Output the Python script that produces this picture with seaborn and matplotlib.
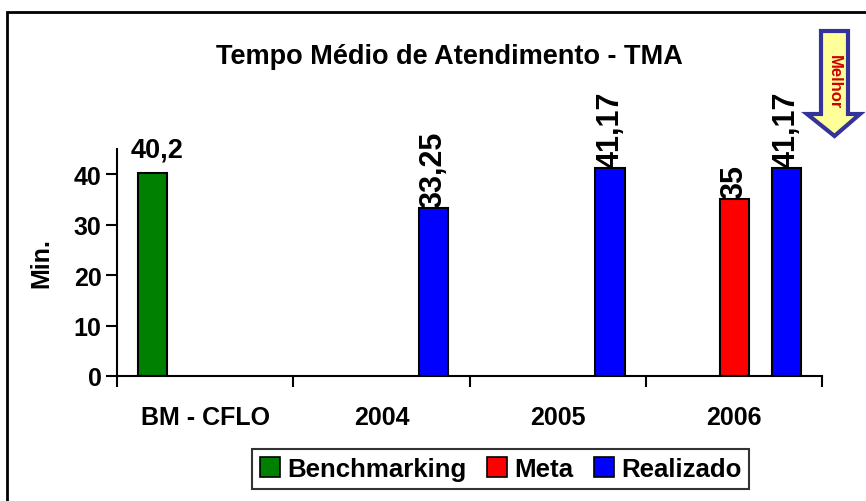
import numpy as np
import pandas as pd
import matplotlib
matplotlib.use("Agg")
import matplotlib.pyplot as plt
from matplotlib.patches import Patch, Polygon, Rectangle
import seaborn as sns

# ── Data ─────────────────────────────────────────────────────────────────────
categories   = ["BM - CFLO", "2004", "2005", "2006"]
series       = ["Benchmarking", "Meta", "Realizado"]
benchmarking = [40.2, np.nan, np.nan, np.nan]
meta         = [np.nan, np.nan, np.nan, 35]
realizado    = [np.nan, 33.25, 41.17, 41.17]
colors       = ["#008000", "#FF0000", "#0000FF"]
y_ticks      = [0, 10, 20, 30, 40]

df = pd.DataFrame({
    "cat":   categories * 3,
    "serie": [s for s in series for _ in categories],
    "val":   benchmarking + meta + realizado,
})

sns.set_style("white")
plt.rcParams["font.family"] = ["Liberation Sans", "DejaVu Sans"]
plt.rcParams["font.weight"] = "bold"
plt.rcParams["text.color"] = "black"
plt.rcParams["axes.labelcolor"] = "black"
plt.rcParams["xtick.color"] = "black"
plt.rcParams["ytick.color"] = "black"

FS = 18
W, H = 866, 502
fig = plt.figure(figsize=(W / 100, H / 100), dpi=100)
ax = fig.add_axes([117 / W, 1 - 377 / H, (822.3 - 117) / W, (377 - 150) / H])

sns.barplot(data=df, x="cat", y="val", hue="serie", order=categories,
            hue_order=series, palette=colors, width=0.888, gap=0.444,
            edgecolor="black", linewidth=1.5, saturation=1, ax=ax,
            legend=False)

ax.set_xlim(-0.5, len(categories) - 0.5)
ax.set_ylim(0, 45)
ax.set_yticks(y_ticks)
ax.set_xticks(np.arange(len(categories) + 1) - 0.5, minor=True)
ax.tick_params(axis="x", which="major", length=0, pad=21, labelsize=FS)
ax.tick_params(axis="x", which="minor", length=8, width=1.5, direction="out",
               bottom=True)
ax.tick_params(axis="y", length=8, width=1.5, direction="out", left=True,
               labelsize=FS, pad=3)
for lab in ax.get_xticklabels() + ax.get_yticklabels():
    lab.set_fontweight("bold")
sns.despine(ax=ax)
for s in ("left", "bottom"):
    ax.spines[s].set_linewidth(1.5)
    ax.spines[s].set_color("black")
ax.set_xlabel("")
ax.set_ylabel("Min.", fontsize=FS, fontweight="bold", labelpad=15)

# value labels
for cont in ax.containers:
    for bar in cont:
        h = bar.get_height()
        if np.isnan(h):
            continue
        xc = bar.get_x() + bar.get_width() / 2
        txt = f"{h:g}".replace(".", ",")
        if h == 40.2:
            ax.annotate(txt, (xc, h), xytext=(3, 8), textcoords="offset points",
                        ha="center", va="bottom", fontsize=FS + 1.5,
                        fontweight="bold")
        else:
            ax.annotate(txt, (xc, h), xytext=(0, 1), textcoords="offset points",
                        ha="center", va="bottom", rotation=90, fontsize=FS + 4,
                        fontweight="bold")

fig.text(449 / W, 1 - 57 / H, "Tempo Médio de Atendimento - TMA",
         ha="center", va="center", fontsize=19.5, fontweight="bold")

handles = [Patch(facecolor=c, edgecolor="black", linewidth=1.2, label=s)
           for c, s in zip(colors, series)]
leg = fig.legend(handles=handles, loc="center", ncol=3,
                 bbox_to_anchor=(500.5 / W, 1 - 470 / H), frameon=True,
                 fancybox=False, fontsize=18.6, handlelength=0.8,
                 handleheight=0.8, handletextpad=0.25, columnspacing=0.8,
                 borderpad=0.32, borderaxespad=0)
leg.get_frame().set_edgecolor("black")
leg.get_frame().set_linewidth(1.5)
for t in leg.get_texts():
    t.set_fontweight("bold")

# "Melhor" arrow
pts = [(821, 32), (848, 32), (848, 115), (860, 115), (834.5, 137),
       (807, 115), (821, 115)]
arrow = Polygon([(x / W, 1 - y / H) for x, y in pts], closed=True,
                transform=fig.transFigure, facecolor="#FFFF99",
                edgecolor="#333399", linewidth=3)
fig.add_artist(arrow)
fig.text(834.5 / W, 1 - 82 / H, "Melhor", rotation=-90, ha="center",
         va="center", color="#CC0000", fontsize=12, fontweight="bold")

# outer frame
frame = Rectangle((7 / W, -0.1), 1.2, 1 - 13 / H + 0.1,
                  transform=fig.transFigure, fill=False, edgecolor="black",
                  linewidth=2)
fig.add_artist(frame)

fig.savefig("out.png", dpi=100)
